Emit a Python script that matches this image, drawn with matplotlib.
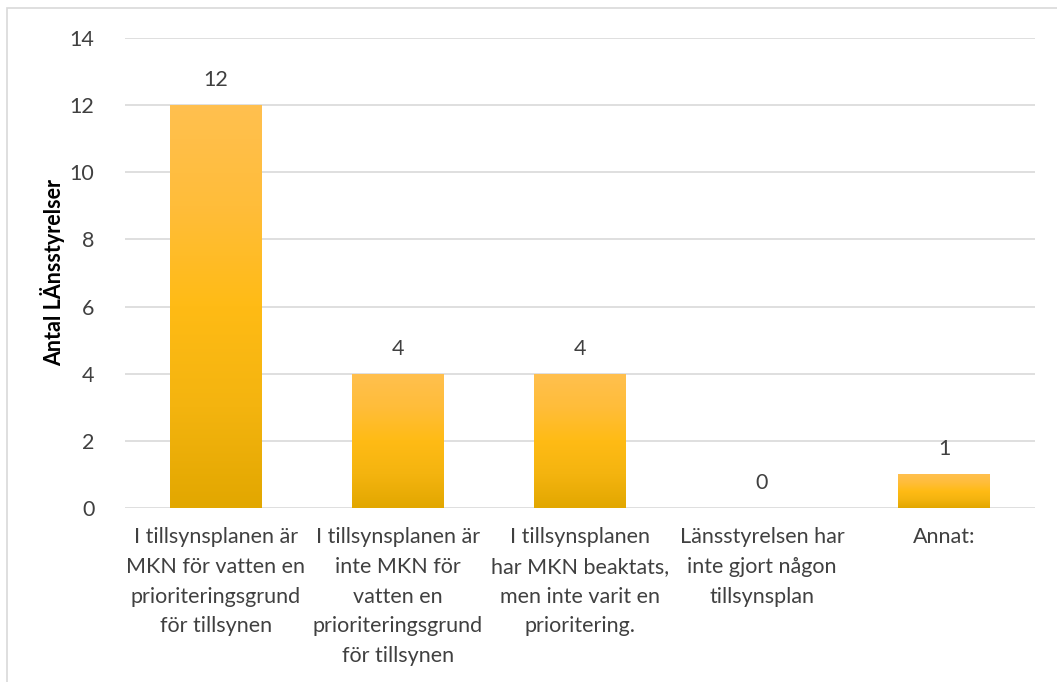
import numpy as np
import matplotlib.pyplot as plt
from matplotlib.patches import Rectangle
from matplotlib.colors import LinearSegmentedColormap

# categories and counts
categories = [
    "I tillsynsplanen är\nMKN för vatten en\nprioriteringsgrund\nför tillsynen",
    "I tillsynsplanen är\ninte MKN för\nvatten en\nprioriteringsgrund\nför tillsynen",
    "I tillsynsplanen\nhar MKN beaktats,\nmen inte varit en\nprioritering.",
    "Länsstyrelsen har\ninte gjort någon\ntillsynsplan",
    "Annat:",
]
counts = [12, 4, 4, 0, 1]
yticks = [0, 2, 4, 6, 8, 10, 12, 14]

plt.rcParams['font.family'] = ['Lato', 'DejaVu Sans']
text_color = "#404040"
fs = 15.5

fig = plt.figure(figsize=(10.57, 6.82), dpi=100)
ax = fig.add_axes([125 / 1057, 1 - 508 / 682, 910 / 1057, 470 / 682])

x = np.arange(len(categories))
bars = ax.bar(x, counts, width=0.505, color="none", edgecolor="none", zorder=2)

# vertical gradient for each bar
grad = np.linspace(0, 1, 256).reshape(-1, 1)
cmap = LinearSegmentedColormap.from_list(
    "gold", ["#E2A700", "#F4B40F", "#FFBB15", "#FFBD3A", "#FFC04F"])
for b, v in zip(bars, counts):
    x0, w = b.get_x(), b.get_width()
    if v > 0:
        im = ax.imshow(grad, cmap=cmap, origin="lower", aspect="auto",
                       extent=[x0, x0 + w, 0, v], zorder=2)
        im.set_clip_path(b)
    ax.text(x0 + w / 2, v + 0.45, str(v), ha="center", va="bottom",
            fontsize=fs, color=text_color)

ax.set_xlim(-0.5, len(categories) - 0.5)
ax.set_ylim(0, 14)
ax.set_yticks(yticks)
ax.set_yticklabels([str(t) for t in yticks], fontsize=fs, color=text_color)
ax.set_xticks(x)
ax.set_xticklabels(categories, fontsize=fs, color=text_color, linespacing=1.6)
ax.tick_params(axis="both", length=0)
ax.tick_params(axis="y", pad=22)
ax.tick_params(axis="x", pad=14)
ax.grid(axis="y", color="#D9D9D9", linewidth=1.2, zorder=0)
ax.set_axisbelow(True)
for s in ax.spines.values():
    s.set_visible(False)

ax.set_ylabel("Antal LÄnsstyrelser", fontsize=fs, fontweight="bold",
              color="black")
ax.yaxis.set_label_coords(-60 / 910, 0.5)

# outer chart frame
fig.patches.append(Rectangle((7 / 1057, -0.1), 1.2, 1 - 8 / 682 + 0.1,
                             transform=fig.transFigure, fill=False,
                             edgecolor="#D9D9D9", linewidth=1.2))

fig.savefig("out.png", dpi=100)
